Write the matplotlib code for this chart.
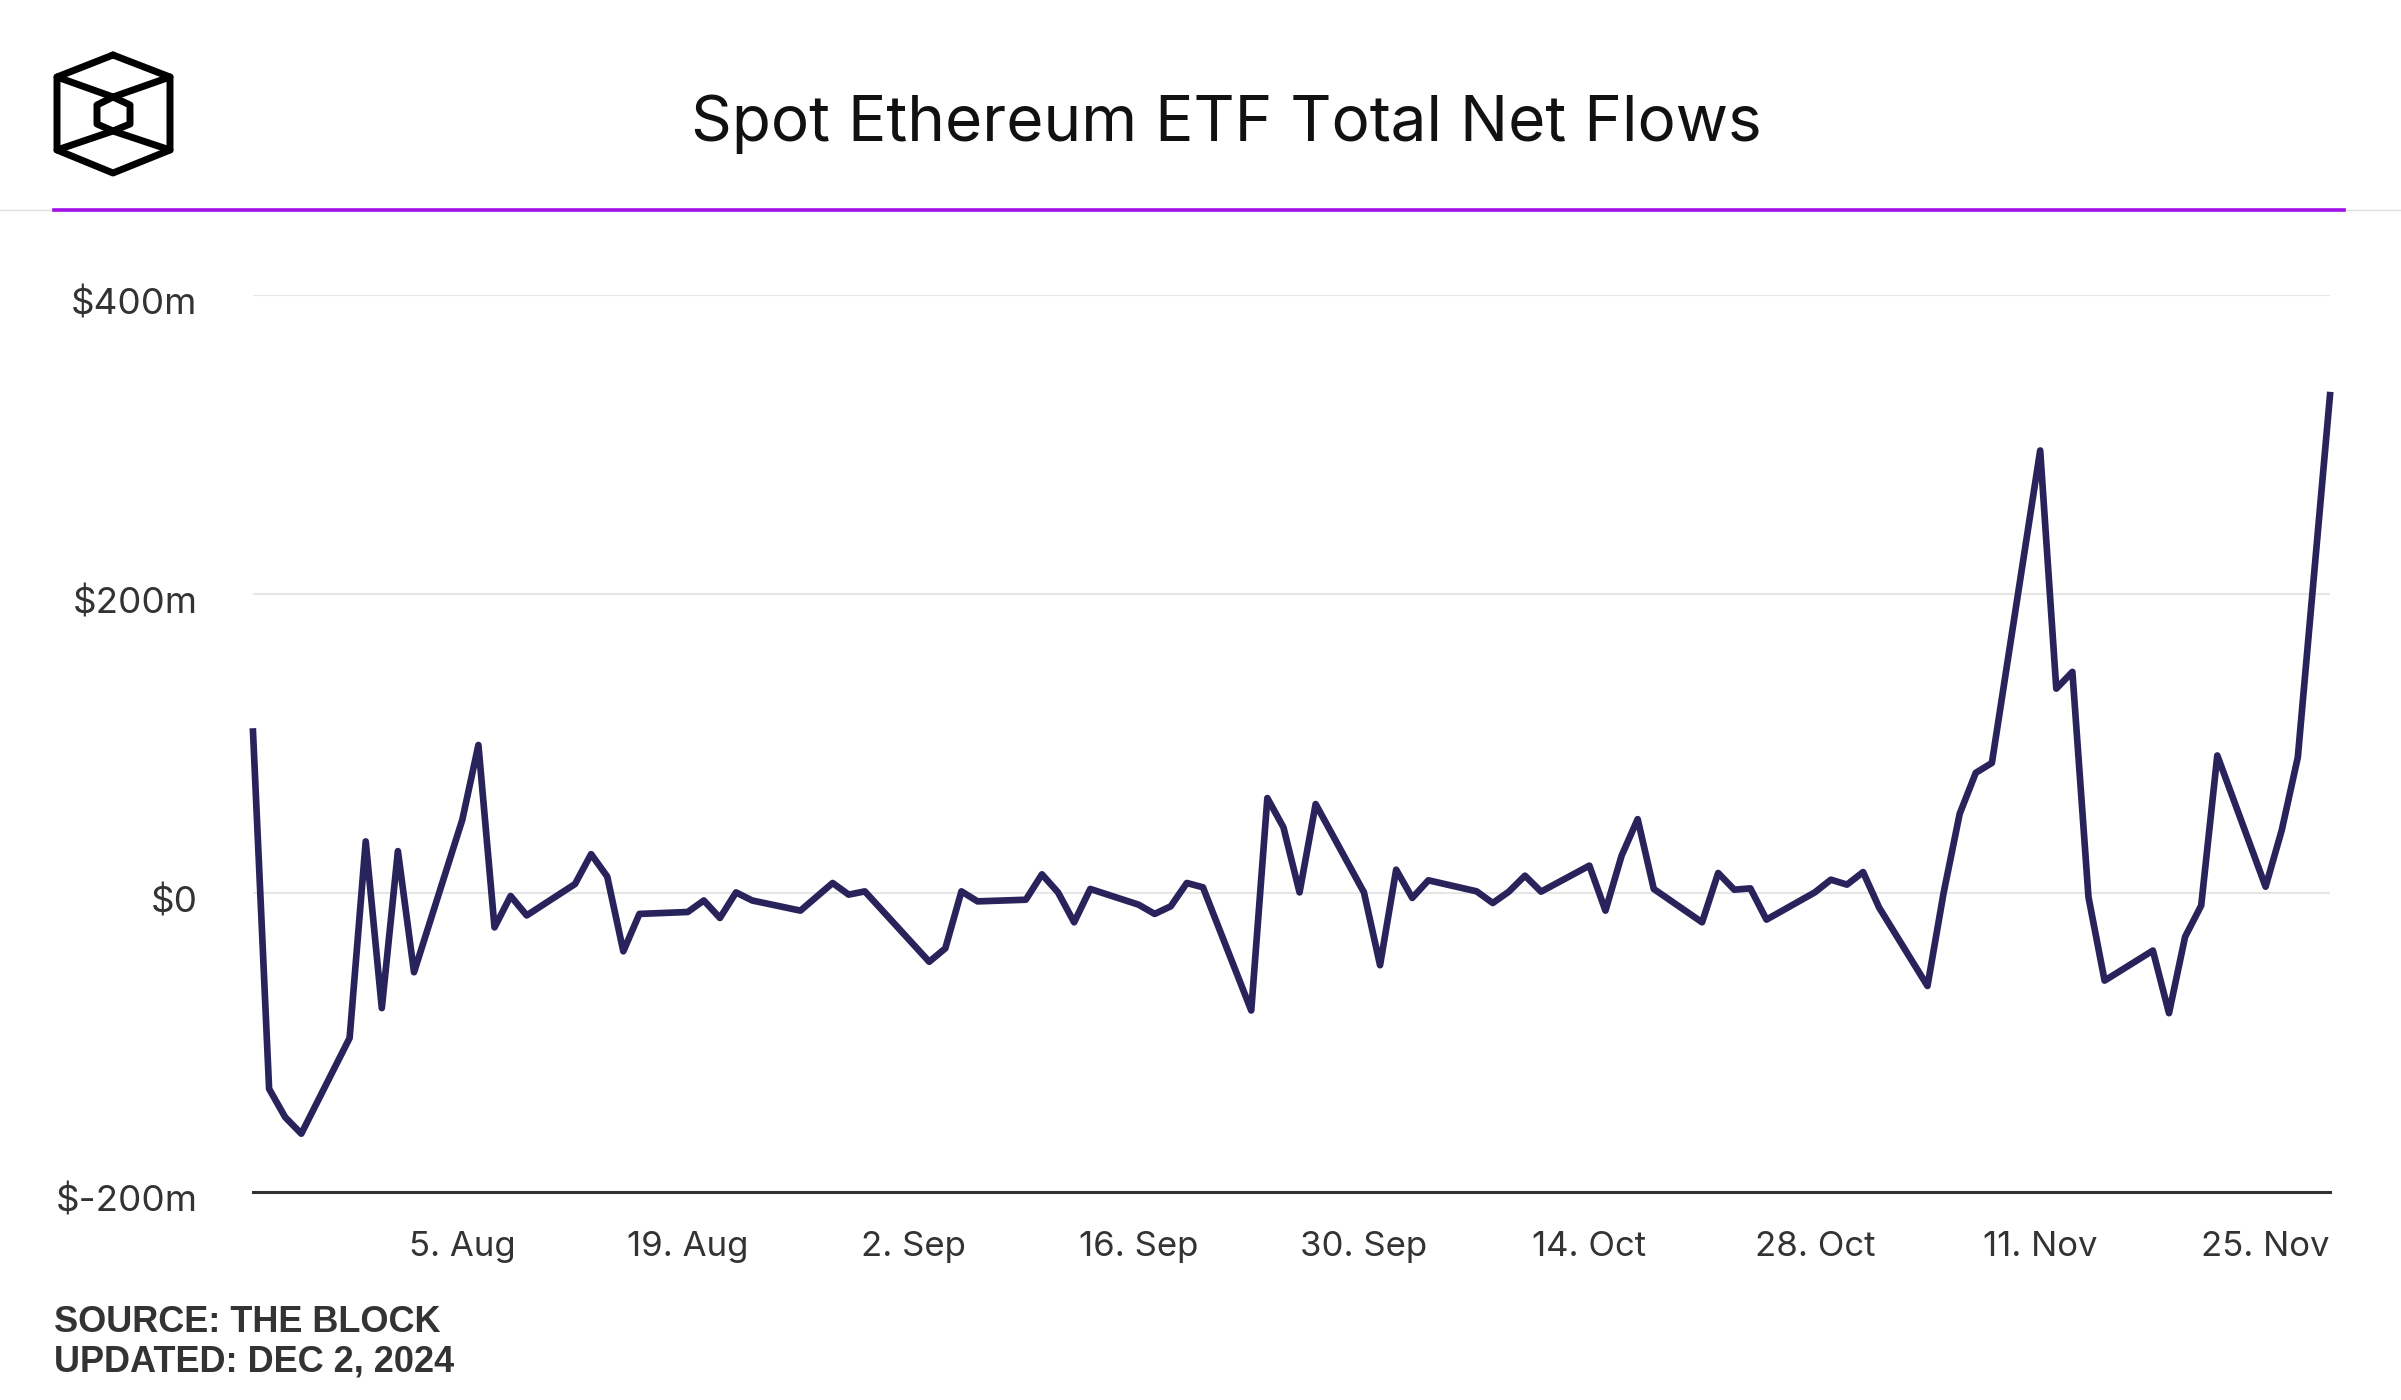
import matplotlib
matplotlib.use("Agg")
import matplotlib.pyplot as plt
import matplotlib.dates as mdates
import matplotlib.transforms as mtrans
from matplotlib.lines import Line2D
import pandas as pd

# daily net flows, $m
dates = [
    "2024-07-23", "2024-07-24", "2024-07-25", "2024-07-26",
    "2024-07-29", "2024-07-30", "2024-07-31", "2024-08-01", "2024-08-02",
    "2024-08-05", "2024-08-06", "2024-08-07", "2024-08-08", "2024-08-09",
    "2024-08-12", "2024-08-13", "2024-08-14", "2024-08-15", "2024-08-16",
    "2024-08-19", "2024-08-20", "2024-08-21", "2024-08-22", "2024-08-23",
    "2024-08-26", "2024-08-28", "2024-08-29", "2024-08-30",
    "2024-09-03", "2024-09-04", "2024-09-05", "2024-09-06",
    "2024-09-09", "2024-09-10", "2024-09-11", "2024-09-12", "2024-09-13",
    "2024-09-16", "2024-09-17", "2024-09-18", "2024-09-19", "2024-09-20",
    "2024-09-23", "2024-09-24", "2024-09-25", "2024-09-26", "2024-09-27",
    "2024-09-30", "2024-10-01", "2024-10-02", "2024-10-03", "2024-10-04",
    "2024-10-07", "2024-10-08", "2024-10-09", "2024-10-10", "2024-10-11",
    "2024-10-14", "2024-10-15", "2024-10-16", "2024-10-17", "2024-10-18",
    "2024-10-21", "2024-10-22", "2024-10-23", "2024-10-24", "2024-10-25",
    "2024-10-28", "2024-10-29", "2024-10-30", "2024-10-31", "2024-11-01",
    "2024-11-04", "2024-11-05", "2024-11-06", "2024-11-07", "2024-11-08",
    "2024-11-11", "2024-11-12", "2024-11-13", "2024-11-14", "2024-11-15",
    "2024-11-18", "2024-11-19", "2024-11-20", "2024-11-21", "2024-11-22",
    "2024-11-25", "2024-11-26", "2024-11-27", "2024-11-29",
]
net_flows = [
    108, -131, -150, -161,
    -97, 34.5, -77, 28, -53,
    49, 99, -23, -2, -15,
    6, 26, 11, -39, -14,
    -12.7, -5, -16.7, 0.4, -5,
    -11.8, 6.7, -1.1, 1.1,
    -46, -37, 1.1, -5.6,
    -4.5, 12.5, 0.4, -19.6, 2.7,
    -7.8, -14, -8.9, 6.7, 3.8,
    -78.6, 63.5, 43.9, 0.4, 59.5,
    0.4, -48.3, 15.6, -3.3, 8.5,
    1.1, -6.7, 0.9, 11.6, 0.9,
    18.3, -11.8, 24.9, 49.4, 2.7,
    -19.6, 13.4, 2.2, 3.1, -17.8,
    0.4, 8.9, 5.6, 14, -9.8,
    -62.2, 0, 53, 80.4, 87,
    296, 136.7, 147.9, -2.8, -58.6,
    -38.5, -80.4, -29.3, -8.4, 92,
    4.2, 41.9, 90.7, 333,
]
tick_dates = ["2024-08-05", "2024-08-19", "2024-09-02", "2024-09-16", "2024-09-30",
              "2024-10-14", "2024-10-28", "2024-11-11", "2024-11-25"]
y_ticks = [-200, 0, 200, 400]
y_labels = ["$-200m", "$0", "$200m", "$400m"]

title = "Spot Ethereum ETF Total Net Flows"
source = "SOURCE: THE BLOCK"
updated = "UPDATED: DEC 2, 2024"

W, H = 2401, 1400
LINE = "#29235c"
TXT = "#333333"

x = pd.to_datetime(dates)

fig = plt.figure(figsize=(W / 100, H / 100), dpi=100)
ax = fig.add_axes([253 / W, 1 - 1192 / H, (2330 - 253) / W, (1192 - 295) / H])

for v in [0, 200, 400]:
    ax.axhline(v, color="#e6e6e6", lw=1.5, zorder=1)
ax.plot(x, net_flows, color=LINE, lw=4.8, solid_joinstyle="round", zorder=3, clip_on=False)

ax.set_xlim(x[0], x[-1])
ax.set_ylim(-200, 400)
for s in ["top", "right", "left"]:
    ax.spines[s].set_visible(False)
ax.spines["bottom"].set_color(TXT)
ax.spines["bottom"].set_linewidth(2.2)

ax.set_yticks(y_ticks)
ax.set_yticklabels(y_labels)
ax.set_xticks(pd.to_datetime(tick_dates))
ax.xaxis.set_major_formatter(mdates.DateFormatter("%-d. %b"))
ax.tick_params(axis="y", length=0, pad=40, labelsize=26.5, labelcolor=TXT)
ax.tick_params(axis="x", length=0, pad=28, labelsize=25, labelcolor=TXT)
shift = mtrans.ScaledTranslation(0, -6 / 100, fig.dpi_scale_trans)
for lab in ax.get_yticklabels():
    lab.set_family("Inter")
    lab.set_transform(lab.get_transform() + shift)
for lab in ax.get_xticklabels():
    lab.set_family("Inter")

# header
fig.text(1226 / W, 1 - 124 / H, title, ha="center", va="center", fontsize=46,
         family="Inter", color="#111111")
fig.add_artist(Line2D([0, 1], [1 - 210 / H] * 2, transform=fig.transFigure,
                      color="#dddddd", lw=1))
fig.add_artist(Line2D([54 / W, 2344 / W], [1 - 210 / H] * 2, transform=fig.transFigure,
                      color="#a00ee8", lw=2.6))

# logo
lg = fig.add_axes([45 / W, 1 - 185 / H, 135 / W, 140 / H])
lg.set_xlim(45, 180)
lg.set_ylim(185, 45)
lg.axis("off")
kw = dict(color="black", lw=5, solid_joinstyle="round", solid_capstyle="round")
lg.plot([113, 170, 170, 113, 57, 57, 113], [55, 77, 150, 173, 150, 77, 55], **kw)
lg.plot([57, 113, 170], [77, 97, 77], **kw)
lg.plot([57, 113, 170], [150, 131, 150], **kw)
lg.plot([113, 130, 130, 113, 97, 97, 113], [97, 105, 124, 131, 124, 105, 97], **kw)

# footer
fig.text(54 / W, 1 - 1322 / H, source, ha="left", va="center", fontsize=26,
         weight="bold", family="Liberation Sans", color=TXT)
fig.text(54 / W, 1 - 1362 / H, updated, ha="left", va="center", fontsize=26,
         weight="bold", family="Liberation Sans", color=TXT)

fig.savefig("out.png", dpi=100, facecolor="white")
